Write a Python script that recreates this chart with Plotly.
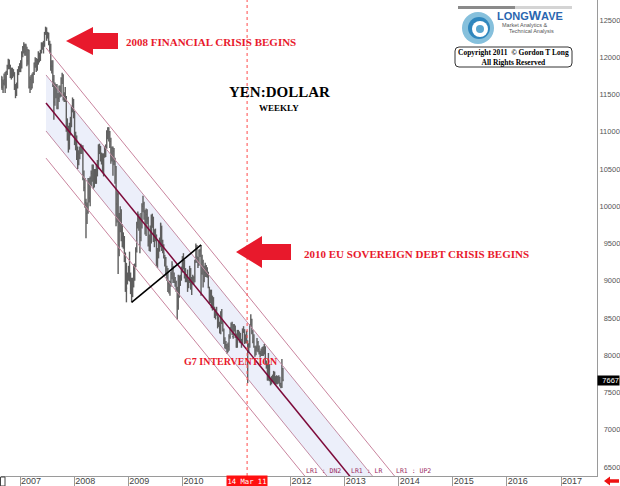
import plotly.graph_objects as go
import pandas as pd

# ---------------- weekly YEN:DOLLAR bars (x100), first bar week ending 2006-08-25 ----------------
highs = [
    11750, 11740, 11700, 11780, 11800, 11820, 11900, 11980, 11970, 11900, 11860, 11860, 11840, 11800, 11640, 11660, 11840, 11880, 11920,
    11960, 12080, 12150, 12200, 12180, 12180, 12140, 12110, 12100, 11740, 11760, 11780, 11800, 11930, 12000, 11990, 11980,
    12080, 12060, 12100, 12200, 12200, 12220, 12340, 12410, 12400, 12340, 12330, 12220, 12180, 11960, 11960, 11760, 11660, 11640,
    11640, 11520, 11620, 11620, 11730, 11790, 11770, 11530, 11600, 11480, 11180, 11080, 11120, 11200, 11350, 11460, 11440,
    11280, 11000, 10950, 10800, 10750, 10800, 10840, 10820, 10820, 10480, 10380, 10100, 10050, 10380, 10380, 10400, 10480,
    10560, 10560, 10500, 10500, 10560, 10620, 10830, 10840, 10810, 10720, 10710, 10710, 10810, 10830, 11020, 11060, 11060, 11010,
    10920, 10800, 10800, 10780, 10650, 10540, 10200, 10180, 9910, 10000, 9960, 9760, 9650, 9600, 9380, 9240, 9110,
    9200, 9390, 9110, 9040, 9040, 9220, 9230, 9450, 9790, 9930, 9900, 9860, 9910, 10040, 10140, 10060, 9950,
    9970, 9960, 9860, 9620, 9740, 9890, 9900, 9860, 9690, 9700, 9620, 9440, 9530, 9580, 9780, 9740, 9550, 9490,
    9350, 9320, 9200, 9170, 9000, 9000, 9120, 9260, 9200, 9110, 9050, 9000, 8920, 9080, 9070, 9080, 9190,
    9330, 9370, 9280, 9170, 9090, 9150, 9020, 9200, 9170, 9050, 9080, 9060, 9280, 9500, 9480, 9320, 9420, 9430,
    9480, 9350, 9280, 9200, 9240, 9210, 9180, 9120, 8920, 8880, 8880, 8800, 8780, 8650, 8620, 8650, 8560,
    8520, 8450, 8590, 8620, 8460, 8360, 8240, 8190, 8150, 8170, 8280, 8380, 8440, 8450, 8420, 8420, 8400, 8290,
    8340, 8340, 8320, 8300, 8220, 8360, 8390, 8350, 8280, 8330, 8200, 8160, 8420, 8550, 8490, 8340, 8280,
    8120, 8130, 8230, 8190, 8130, 8060, 8090, 8110, 8120, 8150, 8120, 7930, 7880, 8030, 7880, 7700, 7720,
    7740, 7790, 7780, 7720, 7730, 7720, 7730, 7710, 7630, 7950, 7830,
]
lows = [
    11580, 11560, 11520, 11620, 11520, 11580, 11760, 11840, 11840, 11720, 11700, 11720, 11740, 11560, 11450, 11480, 11580, 11760, 11800,
    11800, 11850, 12000, 12050, 12020, 12020, 11880, 11900, 11580, 11520, 11560, 11580, 11650, 11760, 11860, 11800, 11820,
    11900, 11930, 11950, 12050, 12100, 12050, 12140, 12300, 12220, 12250, 12160, 12050, 11820, 11780, 11600, 11160, 11350, 11450,
    11300, 11300, 11400, 11460, 11470, 11640, 11420, 11400, 11400, 11000, 10880, 10720, 10760, 10950, 11060, 11260, 11180,
    10820, 10750, 10620, 10500, 10550, 10630, 10700, 10700, 10350, 10200, 9980, 9570, 9760, 9900, 10050, 10000, 10270,
    10330, 10240, 10250, 10300, 10300, 10400, 10500, 10700, 10600, 10560, 10460, 10400, 10650, 10660, 10770, 10900, 10870, 10780,
    10570, 10600, 10410, 10550, 10300, 9730, 9780, 9090, 9330, 9650, 9530, 9450, 9430, 9250, 8850, 8710, 8950,
    9000, 8990, 8820, 8710, 8780, 8910, 9000, 9180, 9380, 9700, 9670, 9370, 9530, 9700, 9920, 9820, 9620,
    9600, 9760, 9460, 9400, 9390, 9500, 9710, 9520, 9450, 9530, 9200, 9170, 9300, 9390, 9450, 9400, 9370, 9300,
    9190, 9070, 9000, 8850, 8830, 8800, 8920, 9020, 8970, 8970, 8920, 8850, 8480, 8610, 8770, 8930, 9000,
    9110, 9150, 9030, 8980, 8980, 8850, 8900, 8970, 8880, 8810, 8950, 8950, 8980, 9240, 9240, 9170, 9200, 9320,
    8800, 9080, 8910, 8980, 9050, 9050, 9040, 8900, 8690, 8700, 8630, 8600, 8610, 8500, 8480, 8530, 8360,
    8380, 8290, 8280, 8420, 8320, 8150, 8090, 8080, 8020, 8040, 8060, 8220, 8330, 8270, 8220, 8320, 8230, 8100,
    8100, 8220, 8170, 8160, 8100, 8150, 8300, 8150, 8160, 8160, 7625, 8030, 8100, 8380, 8280, 8160, 8100,
    7980, 8000, 8050, 8040, 8010, 7970, 7990, 7990, 7990, 8010, 7880, 7820, 7660, 7660, 7650, 7595, 7610,
    7640, 7630, 7610, 7600, 7610, 7610, 7620, 7580, 7557, 7560, 7650,
]
closes = [
    11700, 11600, 11650, 11700, 11600, 11800, 11880, 11960, 11880, 11750, 11830, 11780, 11800, 11580, 11520, 11620, 11810, 11850, 11900,
    11860, 12060, 12130, 12150, 12080, 12150, 11950, 12090, 11600, 11700, 11590, 11760, 11780, 11920, 11960, 11880, 11950,
    12010, 11970, 12080, 12150, 12180, 12160, 12330, 12380, 12320, 12320, 12180, 12170, 11880, 11880, 11700, 11400, 11600, 11580,
    11320, 11450, 11560, 11490, 11710, 11760, 11490, 11450, 11460, 11070, 11070, 10820, 11100, 11160, 11330, 11430, 11250,
    10870, 10920, 10680, 10700, 10650, 10720, 10820, 10770, 10370, 10250, 10050, 9900, 9920, 10320, 10110, 10370, 10440,
    10520, 10240, 10470, 10340, 10550, 10490, 10820, 10780, 10620, 10640, 10620, 10690, 10790, 10800, 11000, 11050, 11000, 10870,
    10680, 10780, 10740, 10600, 10530, 10030, 10160, 9420, 9850, 9830, 9690, 9530, 9550, 9290, 9130, 8900, 9060,
    9130, 9000, 9000, 8870, 8990, 9210, 9190, 9420, 9760, 9830, 9820, 9580, 9830, 10000, 10030, 9920, 9720,
    9890, 9830, 9530, 9460, 9530, 9860, 9840, 9600, 9520, 9620, 9250, 9410, 9480, 9540, 9760, 9490, 9460, 9370,
    9300, 9070, 9100, 8960, 8980, 8980, 9090, 9220, 9010, 8980, 8970, 8900, 8660, 9060, 8930, 9040, 9140,
    9300, 9260, 9080, 8990, 9030, 8930, 8990, 9150, 8900, 9030, 9050, 9040, 9250, 9460, 9320, 9210, 9400, 9400,
    9100, 9250, 9000, 9110, 9190, 9160, 9070, 8920, 8770, 8860, 8660, 8740, 8650, 8540, 8620, 8560, 8520,
    8430, 8390, 8580, 8430, 8330, 8200, 8140, 8140, 8040, 8120, 8250, 8350, 8410, 8250, 8390, 8400, 8270, 8110,
    8320, 8290, 8250, 8210, 8170, 8340, 8310, 8170, 8240, 8190, 8060, 8150, 8400, 8480, 8310, 8180, 8120,
    8060, 8100, 8170, 8080, 8030, 8020, 8000, 8040, 8080, 8110, 7910, 7850, 7670, 7840, 7690, 7650, 7670,
    7680, 7720, 7680, 7640, 7700, 7670, 7700, 7620, 7580, 7820, 7667,
]
if not (len(highs) == len(lows) == len(closes)):
    raise ValueError(f"length mismatch {len(highs)} {len(lows)} {len(closes)}")

first_week = "2006-08-25"
last_price = 7667

# linear regression channel (LR1) : centre line end points and band offsets
chan_dates = ["2007-06-25", "2014-01-01"]
chan_mid = [11386, 5570]
chan_offsets = {"UP2": 740, "UP1": 376, "LR": 0, "DN1": -376, "DN2": -740}

# black trend line
trend_dates = ["2009-01-23", "2010-05-07"]
trend_values = [8709, 9480]

event_date = "2011-03-14"
event_label = "14 Mar 11"

year_ticks = list(range(2007, 2018))
y_ticks = list(range(6500, 13000, 500))
y_range = [6379, 12768]
x_range = ["2006-08-25", "2017-09-01"]

# ---------------- figure ----------------
W, H = 620, 486
ML, MR, MT, MB = 1, 23, 0, 10
PW, PH = W - ML - MR, H - MT - MB


def PX(x):
    return (x - ML) / PW


def PY(y):
    return (MT + PH - y) / PH


dates = pd.date_range(first_week, periods=len(closes), freq="W-FRI")

fig = go.Figure()

d0, d1 = pd.Timestamp(chan_dates[0]), pd.Timestamp(chan_dates[1])
years = (d1 - d0).days / 365.25
slope = (chan_mid[0] - chan_mid[1]) / years


def chan_line(off):
    return [chan_mid[0] + off, chan_mid[1] + off]


# shaded inner band
fig.add_trace(go.Scatter(x=chan_dates, y=chan_line(chan_offsets["UP1"]), mode="lines",
                         line=dict(width=0), hoverinfo="skip", showlegend=False))
fig.add_trace(go.Scatter(x=chan_dates, y=chan_line(chan_offsets["DN1"]), mode="lines",
                         line=dict(width=0), fill="tonexty", fillcolor="#eceffa",
                         hoverinfo="skip", showlegend=False))

# weekly high-low bars with a close tick
bx, by, cx, cy = [], [], [], []
for d, h, l, c in zip(dates, highs, lows, closes):
    bx += [d, d, None]
    by += [h, l, None]
    cx += [d, d + pd.Timedelta(days=5), None]
    cy += [c, c, None]
fig.add_trace(go.Scatter(x=bx, y=by, mode="lines", line=dict(color="#5e5e5e", width=1.4),
                         hoverinfo="skip", showlegend=False))
fig.add_trace(go.Scatter(x=cx, y=cy, mode="lines", line=dict(color="#5e5e5e", width=1),
                         hoverinfo="skip", showlegend=False))

for name, off in chan_offsets.items():
    if name == "LR":
        ln = dict(color="#7d0a3a", width=1.5)
    elif name in ("UP1", "DN1"):
        ln = dict(color="#c48ca4", width=1)
    else:
        ln = dict(color="#c9849e", width=1)
    fig.add_trace(go.Scatter(x=chan_dates, y=chan_line(off), mode="lines", line=ln,
                             hoverinfo="skip", showlegend=False))

fig.add_trace(go.Scatter(x=trend_dates, y=trend_values, mode="lines",
                         line=dict(color="black", width=1.6), hoverinfo="skip", showlegend=False))

shapes = []
annotations = []

# event marker
shapes.append(dict(type="line", xref="x", yref="paper", x0=event_date, x1=event_date, y0=0, y1=1,
                   line=dict(color="#ff4a4a", width=1, dash="dot")))
annotations.append(dict(text=event_label, x=event_date, xref="x", y=PY(481), yref="paper",
                        xanchor="center", yanchor="middle", width=40, height=10,
                        showarrow=False, bgcolor="#ff1010", borderpad=0,
                        font=dict(family="DejaVu Sans Mono", size=7.2, color="white")))

# LR labels where the lines leave the plot
for name, txt in (("DN2", "LR1 : DN2"), ("LR", "LR1 : LR"), ("UP2", "LR1 : UP2")):
    t = (chan_mid[0] + chan_offsets[name] - y_range[0]) / slope
    xd = d0 + pd.Timedelta(days=t * 365.25)
    annotations.append(dict(text=txt, x=xd, xref="x", y=PY(471), yref="paper", xanchor="left",
                            yanchor="middle", showarrow=False, borderpad=0,
                            font=dict(family="DejaVu Sans Mono", size=6.5, color="#9a2a62")))


def arrow(tipx, tipy, headx, hh, bh, endx, color="#e8192c"):
    pts = [(tipx, tipy), (headx, tipy - hh), (headx, tipy - bh), (endx, tipy - bh),
           (endx, tipy + bh), (headx, tipy + bh), (headx, tipy + hh)]
    p = "M " + " L ".join(f"{PX(x):.5f},{PY(y):.5f}" for x, y in pts) + " Z"
    return dict(type="path", xref="paper", yref="paper", path=p, fillcolor=color,
                line=dict(width=0))


shapes.append(arrow(66, 41, 93, 14, 8, 118))
shapes.append(arrow(236, 252, 262, 16, 8, 291))
shapes.append(arrow(604, 481, 610, 4.5, 1.8, 619, color="#ee1111"))

red = "#e8192c"
serif = "Liberation Serif"
annotations.append(dict(text="<b>2008 FINANCIAL CRISIS BEGINS</b>", x=PX(124), y=PY(42), xref="paper", yref="paper",
                        xanchor="left", yanchor="middle", showarrow=False, font=dict(family=serif, size=11, color=red)))
annotations.append(dict(text="<b>2010 EU SOVEREIGN DEBT CRISIS BEGINS</b>", x=PX(302), y=PY(254), xref="paper", yref="paper",
                        xanchor="left", yanchor="middle", showarrow=False, font=dict(family=serif, size=11, color=red)))
annotations.append(dict(text="<b>G7 INTERVENTION</b>", x=PX(182), y=PY(361), xref="paper", yref="paper",
                        xanchor="left", yanchor="middle", showarrow=False, font=dict(family=serif, size=10, color=red)))
annotations.append(dict(text="<b>YEN:DOLLAR</b>", x=PX(279), y=PY(92), xref="paper", yref="paper",
                        xanchor="center", yanchor="middle", showarrow=False, font=dict(family=serif, size=15, color="black")))
annotations.append(dict(text="<b>WEEKLY</b>", x=PX(279), y=PY(108), xref="paper", yref="paper",
                        xanchor="center", yanchor="middle", showarrow=False, font=dict(family=serif, size=9, color="black")))

# last price box
annotations.append(dict(text=f"{last_price}", x=PX(620), xref="paper", xanchor="right", y=last_price, yref="y",
                        yanchor="middle", showarrow=False, bgcolor="black", borderpad=0, width=21, align="right",
                        font=dict(family="Liberation Sans", size=7.5, color="white")))

# logo
shapes.append(dict(type="rect", xref="paper", yref="paper", x0=PX(458), x1=PX(515), y0=PY(9), y1=PY(6),
                   fillcolor="#8a8a8a", line=dict(width=0)))
shapes.append(dict(type="rect", xref="paper", yref="paper", x0=PX(515), x1=PX(572), y0=PY(9), y1=PY(6),
                   fillcolor="#d4d4d4", line=dict(width=0)))
for (x0, y0, x1, y1, c) in ((462, 12, 494, 44, "#86c0dc"), (468, 17, 490, 39, "#2f86bd"),
                            (472, 21, 488, 37, "#ffffff"), (476, 25, 484, 33, "#5aa6cf")):
    shapes.append(dict(type="circle", xref="paper", yref="paper", x0=PX(x0), x1=PX(x1), y0=PY(y1), y1=PY(y0),
                       fillcolor=c, line=dict(width=0)))
annotations.append(dict(text="<b>LONG<span style='font-size:13px'>W</span>AVE</b>", x=PX(496), y=PY(15), xref="paper", yref="paper",
                        xanchor="left", yanchor="middle", showarrow=False, borderpad=0,
                        font=dict(family="Liberation Sans", size=11, color="#2a66b0")))
annotations.append(dict(text="Market Analytics &", x=PX(501), y=PY(24.5), xref="paper", yref="paper",
                        xanchor="left", yanchor="middle", showarrow=False, borderpad=0,
                        font=dict(family="Liberation Sans", size=5.5, color="#555")))
annotations.append(dict(text="Technical Analysis", x=PX(508), y=PY(31), xref="paper", yref="paper",
                        xanchor="left", yanchor="middle", showarrow=False, borderpad=0,
                        font=dict(family="Liberation Sans", size=5.5, color="#555")))


def rounded(x0, y0, x1, y1, r):
    pts = (f"M {PX(x0 + r)},{PY(y0)} L {PX(x1 - r)},{PY(y0)} Q {PX(x1)},{PY(y0)} {PX(x1)},{PY(y0 + r)} "
           f"L {PX(x1)},{PY(y1 - r)} Q {PX(x1)},{PY(y1)} {PX(x1 - r)},{PY(y1)} "
           f"L {PX(x0 + r)},{PY(y1)} Q {PX(x0)},{PY(y1)} {PX(x0)},{PY(y1 - r)} "
           f"L {PX(x0)},{PY(y0 + r)} Q {PX(x0)},{PY(y0)} {PX(x0 + r)},{PY(y0)} Z")
    return pts


shapes.append(dict(type="path", xref="paper", yref="paper", path=rounded(455, 47, 572, 67, 4),
                   line=dict(color="#333", width=1), fillcolor="white"))
annotations.append(dict(text="<b>Copyright 2011  © Gordon T Long</b><br><b>All Rights Reserved</b>",
                        x=PX(513.5), y=PY(57), xref="paper", yref="paper", xanchor="center", yanchor="middle",
                        showarrow=False, font=dict(family=serif, size=7.5, color="black")))

# small box at bottom left
shapes.append(dict(type="rect", xref="paper", yref="paper", x0=PX(0.5), x1=PX(5), y0=PY(486), y1=PY(477),
                   line=dict(color="#444", width=1), fillcolor="white"))

y_text = [("\u2007" * (5 - len(str(v)))) + str(v) for v in y_ticks]
x_tickvals = [f"{yr}-01-01" for yr in year_ticks]
x_ticktext = ["" if yr == 2011 else str(yr) for yr in year_ticks]

fig.update_layout(
    template="none",
    width=W, height=H,
    margin=dict(l=ML, r=MR, t=MT, b=MB, pad=0),
    paper_bgcolor="white", plot_bgcolor="white",
    showlegend=False,
    shapes=shapes, annotations=annotations,
    xaxis=dict(range=x_range, type="date", automargin=False,
               showgrid=False, zeroline=False, showline=True, linecolor="#9a9a9a", linewidth=1,
               ticks="outside", ticklen=10, tickcolor="#9a9a9a", tickwidth=1,
               tickvals=x_tickvals, ticktext=x_ticktext,
               tickfont=dict(family="Liberation Sans", size=9, color="#444"),
               ticklabelposition="outside right", ticklabelstandoff=-4,
               fixedrange=True),
    yaxis=dict(range=y_range, side="right", automargin=False, showgrid=False, zeroline=False, showline=True,
               linecolor="#9a9a9a", linewidth=1, ticks="", tickvals=y_ticks, ticktext=y_text,
               tickfont=dict(family="Liberation Sans", size=7.5, color="#555"), fixedrange=True),
)

fig.write_html("out.html", config={"displayModeBar": False},
               post_script="document.body.style.margin='0px';document.body.style.overflow='hidden';")
